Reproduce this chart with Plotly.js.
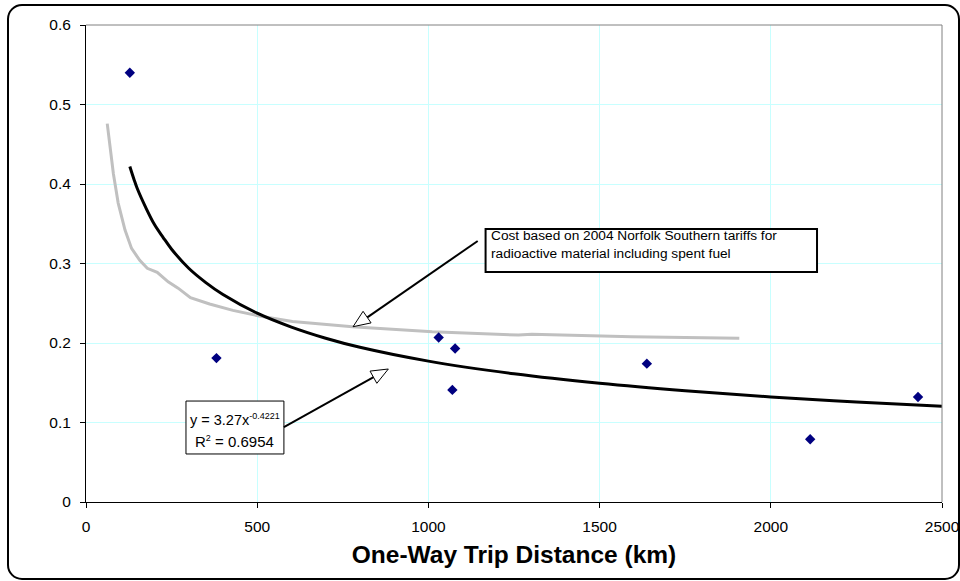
<!DOCTYPE html>
<html><head><meta charset="utf-8">
<script src="https://cdn.plot.ly/plotly-3.0.1.min.js"></script>
<style>
html,body{margin:0;padding:0;background:#fff;overflow:hidden}
#wrap{position:relative;width:960px;height:581px;overflow:hidden}
#chart{width:960px;height:581px}
#frame{position:absolute;left:7px;top:4px;width:953px;height:576px;box-sizing:border-box;border:2.5px solid #000;border-radius:15px;pointer-events:none}
</style>
</head><body><div id="wrap"><div id="chart"></div><div id="frame"></div></div>
<script>
// Observed cost points (blue diamonds)
const observedDistance = [128, 381, 1030, 1070, 1078, 1638, 2115, 2430];
const observedCost     = [0.540, 0.181, 0.207, 0.141, 0.193, 0.174, 0.079, 0.132];

// Norfolk Southern tariff curve (gray)
const tariffDistance = [62, 70, 80, 94, 114, 133, 157, 179, 208, 240, 269, 305, 361, 429, 506, 603, 652, 778, 1011, 1263, 1302, 1593, 1908];
const tariffCost     = [0.476, 0.447, 0.413, 0.376, 0.342, 0.319, 0.304, 0.294, 0.289, 0.277, 0.269, 0.257, 0.249, 0.241, 0.234, 0.227, 0.225, 0.2205, 0.214, 0.210, 0.211, 0.208, 0.206];

// Power trendline (black)
const trendDistance = [128, 140, 150, 175, 200, 225, 250, 300, 350, 400, 500, 600, 700, 800, 1000, 1250, 1500, 1750, 2000, 2250, 2500];
const trendCost     = [0.422, 0.406, 0.394, 0.370, 0.349, 0.333, 0.318, 0.294, 0.276, 0.261, 0.2375, 0.220, 0.206, 0.1946, 0.1772, 0.1613, 0.1493, 0.1399, 0.1322, 0.1258, 0.1204];

const xTicks = [0, 500, 1000, 1500, 2000, 2500];
const yTicks = [0, 0.1, 0.2, 0.3, 0.4, 0.5, 0.6];

const traces = [
  {x: tariffDistance, y: tariffCost, mode: 'lines', line: {color: '#c0c0c0', width: 3}, hoverinfo: 'skip'},
  {x: trendDistance, y: trendCost, mode: 'lines', line: {color: '#000', width: 3, shape: 'spline'}, hoverinfo: 'skip'},
  {x: observedDistance, y: observedCost, mode: 'markers', marker: {symbol: 'diamond', size: 8, color: '#000080'}}
];

const gridCol = '#c8ffff';
const fam = 'Liberation Sans, Arial, sans-serif';
const layout = {
  width: 960, height: 581,
  margin: {l: 86, r: 18, t: 25, b: 79},
  paper_bgcolor: 'rgba(0,0,0,0)', plot_bgcolor: '#fff',
  showlegend: false,
  font: {family: fam, color: '#000', size: 14},
  xaxis: {
    range: [0, 2500], tickvals: xTicks, ticktext: xTicks.map(String),
    showgrid: true, gridcolor: gridCol, zeroline: false,
    showline: true, linecolor: '#000', linewidth: 1,
    ticks: 'outside', ticklen: 5, tickcolor: '#000',
    tickfont: {size: 15.5, family: fam}, ticklabelstandoff: 5,
    title: {text: '<b>One-Way Trip Distance (km)</b>', font: {size: 24.5, family: fam}, standoff: 12}
  },
  yaxis: {
    range: [0, 0.6], tickvals: yTicks, ticktext: yTicks.map(String),
    showgrid: true, gridcolor: gridCol, zeroline: false,
    showline: true, linecolor: '#000', linewidth: 1,
    ticks: 'outside', ticklen: 5, tickcolor: '#000',
    tickfont: {size: 15.5, family: fam}, ticklabelstandoff: 6
  },
  shapes: [
    {type: 'line', xref: 'paper', yref: 'paper', x0: 0, x1: 1, y0: 1, y1: 1, line: {color: '#808080', width: 1}},
    {type: 'line', xref: 'paper', yref: 'paper', x0: 1, x1: 1, y0: 0, y1: 1, line: {color: '#808080', width: 1}},
    // text box 1
    {type: 'rect', xref: 'x', yref: 'y', x0: 1167, x1: 2135, y0: 0.2893, y1: 0.3434, line: {color: '#000', width: 2}, fillcolor: '#fff'},
    // text box 2
    {type: 'rect', xref: 'x', yref: 'y', x0: 292, x1: 578, y0: 0.0604, y1: 0.127, line: {color: '#000', width: 1}, fillcolor: '#fff'},
    // arrow 1 shaft + open head
    {type: 'line', xref: 'x', yref: 'y', x0: 1144, y0: 0.3283, x1: 792, y1: 0.2235, line: {color: '#000', width: 2}},
    {type: 'path', xref: 'x', yref: 'y', xsizemode: 'pixel', ysizemode: 'pixel', xanchor: 780, yanchor: 0.2205,
     path: 'M0,0 L18,3.8 L10,15.4 Z', line: {color: '#000', width: 1}, fillcolor: '#fff'},
    // arrow 2 shaft + open head
    {type: 'line', xref: 'x', yref: 'y', x0: 578, y0: 0.0943, x1: 870, y1: 0.1643, line: {color: '#000', width: 2}},
    {type: 'path', xref: 'x', yref: 'y', xsizemode: 'pixel', ysizemode: 'pixel', xanchor: 883, yanchor: 0.1673,
     path: 'M0,0 L-11.5,-14.3 L-18.3,-2.1 Z', line: {color: '#000', width: 1}, fillcolor: '#fff'}
  ],
  annotations: [
    {xref: 'x', yref: 'y', x: 1176, y: 0.335, xanchor: 'left', yanchor: 'middle', showarrow: false,
     text: 'Cost based on 2004 Norfolk Southern tariffs for', font: {size: 13.7}},
    {xref: 'x', yref: 'y', x: 1176, y: 0.3128, xanchor: 'left', yanchor: 'middle', showarrow: false,
     text: 'radioactive material including spent fuel', font: {size: 13.7}},
    {xref: 'x', yref: 'y', x: 435, y: 0.1035, xanchor: 'center', yanchor: 'middle', showarrow: false,
     text: 'y = 3.27x<sup><span style="font-size:9px">-0.4221</span></sup>', font: {size: 14.5}},
    {xref: 'x', yref: 'y', x: 435, y: 0.0767, xanchor: 'center', yanchor: 'middle', showarrow: false,
     text: 'R<sup><span style="font-size:9px">2</span></sup> = 0.6954', font: {size: 15}}
  ]
};

Plotly.newPlot('chart', traces, layout, {staticPlot: true});
</script>
</body></html>
